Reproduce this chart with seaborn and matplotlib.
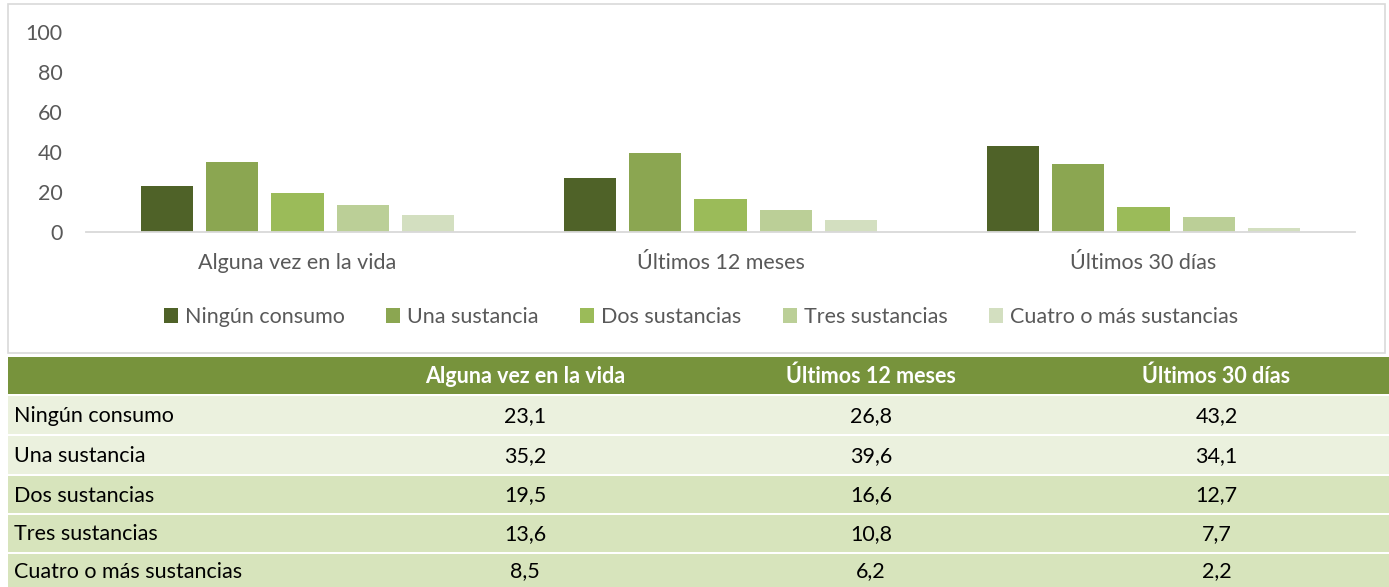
import matplotlib
matplotlib.use("Agg")
import matplotlib.pyplot as plt
from matplotlib.patches import Patch, Rectangle
import seaborn as sns
import pandas as pd

# Data
periods = ["Alguna vez en la vida", "Últimos 12 meses", "Últimos 30 días"]
groups = ["Ningún consumo", "Una sustancia", "Dos sustancias", "Tres sustancias",
          "Cuatro o más sustancias"]
ninguno = [23.1, 26.8, 43.2]
una = [35.2, 39.6, 34.1]
dos = [19.5, 16.6, 12.7]
tres = [13.6, 10.8, 7.7]
cuatro = [8.5, 6.2, 2.2]
yticks = [0, 20, 40, 60, 80, 100]

series = [ninguno, una, dos, tres, cuatro]
colors = ["#4F6228", "#8BA651", "#9BBB59", "#BBCF97", "#D3DFC0"]

rows = []
for g, vals in zip(groups, series):
    for p, v in zip(periods, vals):
        rows.append({"periodo": p, "grupo": g, "valor": v})
df = pd.DataFrame(rows)

sns.set_theme(style="white")
plt.rcParams["font.family"] = ["Lato", "DejaVu Sans"]

W, H = 1389, 587
fig = plt.figure(figsize=(W / 100, H / 100), dpi=100)


def fx(px):
    return px / W


def fy(py):
    return 1 - py / H


# Chart frame
fig.patches.append(Rectangle((fx(8), fy(353)), fx(1385 - 8), (353 - 4) / H,
                             transform=fig.transFigure, fill=False,
                             edgecolor="#D9D9D9", linewidth=1.2, zorder=0))

ax = fig.add_axes([fx(86), fy(232), fx(1355 - 86), 200 / H])
sns.barplot(data=df, x="periodo", y="valor", hue="grupo", order=periods,
            hue_order=groups, palette=colors, width=0.77, gap=0.2,
            linewidth=0, saturation=1, legend=False, ax=ax)
ax.set_ylim(0, 100)
ax.set_xlim(-0.5, 2.5)
ax.set_yticks(yticks)
ax.set_xlabel("")
ax.set_ylabel("")
for s in ["top", "right", "left"]:
    ax.spines[s].set_visible(False)
ax.spines["bottom"].set_color("#D9D9D9")
ax.spines["bottom"].set_linewidth(1.3)
ax.tick_params(axis="y", length=0, pad=17, labelsize=15.5, labelcolor="#595959")
ax.tick_params(axis="x", length=0, pad=15, labelsize=15.5, labelcolor="#595959")

handles = [Patch(facecolor=c, edgecolor="none") for c in colors]
fig.legend(handles, groups, loc="center", bbox_to_anchor=(fx(701), fy(317)),
           ncol=5, frameon=False, fontsize=15.5, labelcolor="#595959",
           handlelength=0.65, handleheight=0.65, handletextpad=0.35,
           columnspacing=1.9)

# Data table below the chart
tab = fig.add_axes([0, 0, 1, 1], facecolor="none")
tab.set_xlim(0, W)
tab.set_ylim(H, 0)
tab.axis("off")

col_edges = [8, 352, 698, 1044, 1389]
col_centers = [(a + b) / 2 for a, b in zip(col_edges[1:-1], col_edges[2:])]
header = (357, 394)
row_bounds = [(396, 434), (436, 474), (476, 513), (515, 552), (554, 587)]
row_fill = ["#EBF1DE", "#EBF1DE", "#D7E4BC", "#D7E4BC", "#D7E4BC"]

tab.add_patch(Rectangle((col_edges[0], header[0]), col_edges[-1] - col_edges[0],
                        header[1] - header[0], facecolor="#77933C", edgecolor="none"))
for c, p in zip(col_centers, periods):
    tab.text(c, (header[0] + header[1]) / 2 + 1, p, ha="center", va="center",
             fontsize=15.5, fontweight="bold", color="white")

for i, (g, (t, b)) in enumerate(zip(groups, row_bounds)):
    tab.add_patch(Rectangle((col_edges[0], t), col_edges[-1] - col_edges[0], b - t,
                            facecolor=row_fill[i], edgecolor="none"))
    ym = (t + b) / 2 + 1
    tab.text(14, ym, g, ha="left", va="center", fontsize=15.5, color="black")
    for c, v in zip(col_centers, series[i]):
        tab.text(c, ym, f"{v:.1f}".replace(".", ","), ha="center", va="center",
                 fontsize=15.5, color="black")

fig.savefig("out.png", dpi=100)
